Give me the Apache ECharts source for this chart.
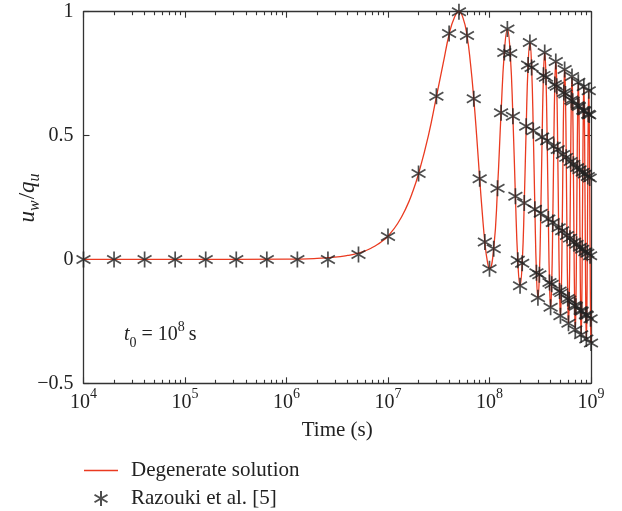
<!DOCTYPE html>
<html>
<head>
<meta charset="utf-8">
<script src="https://cdn.jsdelivr.net/npm/echarts@6/dist/echarts.min.js"></script>
<style>
  html, body { margin: 0; padding: 0; background: #fff; }
  #chart { width: 622px; height: 511px; }
</style>
</head>
<body>
<div id="chart"></div>
<script>
// Razouki et al. [5]: doubling time steps up to 5.12e6 s ...
const doublingTime = [1e4, 2e4, 4e4, 8e4, 1.6e5, 3.2e5, 6.4e5, 1.28e6, 2.56e6, 5.12e6];
const doublingValue = [0, 0, 0, 0, 0, 0, 0, 0, 0, 0.02];

// ... then a uniform step of 1e7 s up to 1e9 s
const cycleTime = [
  1e7, 2e7, 3e7, 4e7, 5e7, 6e7, 7e7, 8e7, 9e7, 1e8,
  1.1e8, 1.2e8, 1.3e8, 1.4e8, 1.5e8, 1.6e8, 1.7e8, 1.8e8, 1.9e8, 2e8,
  2.1e8, 2.2e8, 2.3e8, 2.4e8, 2.5e8, 2.6e8, 2.7e8, 2.8e8, 2.9e8, 3e8,
  3.1e8, 3.2e8, 3.3e8, 3.4e8, 3.5e8, 3.6e8, 3.7e8, 3.8e8, 3.9e8, 4e8,
  4.1e8, 4.2e8, 4.3e8, 4.4e8, 4.5e8, 4.6e8, 4.7e8, 4.8e8, 4.9e8, 5e8,
  5.1e8, 5.2e8, 5.3e8, 5.4e8, 5.5e8, 5.6e8, 5.7e8, 5.8e8, 5.9e8, 6e8,
  6.1e8, 6.2e8, 6.3e8, 6.4e8, 6.5e8, 6.6e8, 6.7e8, 6.8e8, 6.9e8, 7e8,
  7.1e8, 7.2e8, 7.3e8, 7.4e8, 7.5e8, 7.6e8, 7.7e8, 7.8e8, 7.9e8, 8e8,
  8.1e8, 8.2e8, 8.3e8, 8.4e8, 8.5e8, 8.6e8, 8.7e8, 8.8e8, 8.9e8, 9e8,
  9.1e8, 9.2e8, 9.3e8, 9.4e8, 9.5e8, 9.6e8, 9.7e8, 9.8e8, 9.9e8, 1e9
];
const cycleValue = [
  0.093, 0.347, 0.659, 0.912, 1.0, 0.904, 0.649, 0.326, 0.070, -0.038,
  0.043, 0.287, 0.592, 0.835, 0.930, 0.831, 0.578, 0.255, -0.003, -0.106,
  -0.015, 0.228, 0.538, 0.785, 0.876, 0.775, 0.519, 0.203, -0.054, -0.155,
  -0.062, 0.186, 0.494, 0.743, 0.835, 0.735, 0.479, 0.163, -0.093, -0.193,
  -0.100, 0.149, 0.457, 0.706, 0.799, 0.699, 0.444, 0.128, -0.127, -0.227,
  -0.134, 0.116, 0.424, 0.674, 0.767, 0.668, 0.412, 0.097, -0.158, -0.258,
  -0.164, 0.086, 0.395, 0.644, 0.738, 0.639, 0.384, 0.070, -0.185, -0.284,
  -0.189, 0.061, 0.371, 0.621, 0.715, 0.617, 0.362, 0.049, -0.206, -0.304,
  -0.209, 0.041, 0.352, 0.602, 0.697, 0.599, 0.345, 0.031, -0.223, -0.321,
  -0.226, 0.025, 0.335, 0.586, 0.681, 0.583, 0.329, 0.015, -0.239, -0.337
];

// Degenerate solution: onset and first loading cycle (to t = 1e8 s)
const riseTime = [
  1e4, 1e5, 1e6, 2e6, 3e6, 4e6, 5e6, 6e6, 7e6, 8e6, 9e6,
  1e7, 1.25e7, 1.5e7, 1.75e7, 2e7, 2.5e7, 3e7, 3.5e7, 4e7, 4.5e7,
  5e7, 5.5e7, 6e7, 6.5e7, 7e7, 7.5e7, 8e7, 8.5e7, 9e7, 9.5e7, 1e8
];
const riseValue = [
  0, 0, 0.001, 0.004, 0.009, 0.016, 0.024, 0.035, 0.048, 0.062, 0.077,
  0.094, 0.146, 0.206, 0.273, 0.346, 0.500, 0.657, 0.792, 0.908, 0.976,
  1.0, 0.973, 0.904, 0.790, 0.649, 0.490, 0.327, 0.185, 0.070, -0.005, -0.038
];

const decades = [1e4, 1e5, 1e6, 1e7, 1e8, 1e9];
const yTicks = [-0.5, 0, 0.5, 1];

const FONT = '"Liberation Serif", "DejaVu Serif", "Times New Roman", serif';
const RED = '#ea3a20';
const INK = '#222';
const AXIS = '#333';
const ASTERISK = 'path://M10,0L10,20M1.34,5L18.66,15M1.34,15L18.66,5';
const LINE_ICON = 'path://M0,0L34,0L34,1.3L0,1.3Z';

// minor ticks at 2..9 within each decade
const minorTicks = [];
for (let d = 0; d < decades.length - 1; d++) {
  for (let m = 2; m <= 9; m++) minorTicks.push(m * decades[d]);
}

const refData = doublingTime.map((t, i) => [t, doublingValue[i]])
  .concat(cycleTime.map((t, i) => [t, cycleValue[i]]));
const curveData = riseTime.map((t, i) => [t, riseValue[i]])
  .concat(cycleTime.map((t, i) => [t, cycleValue[i]]).filter(p => p[0] > 1e8));

// base text centred in a 30px line, exponent pinned to the line top
const supRich = {
  b: { fontFamily: FONT, fontSize: 20, color: INK, lineHeight: 30, verticalAlign: 'middle' },
  s: { fontFamily: FONT, fontSize: 14, color: INK, verticalAlign: 'top' }
};

function logAxis(position, isMinor, withLabels) {
  const ticks = isMinor ? minorTicks : decades;
  return {
    type: 'log', logBase: 10, min: 1e4, max: 1e9, position: position,
    axisLine: { show: !isMinor, onZero: false, lineStyle: { color: AXIS, width: 1.3 } },
    axisTick: { show: true, inside: true, length: isMinor ? 3.5 : 6, customValues: ticks,
      lineStyle: { color: AXIS, width: 1.1 } },
    axisLabel: withLabels ? {
      show: true, customValues: decades, margin: 4,
      formatter: v => '{b|10}{s|' + Math.round(Math.log10(v)) + '}',
      rich: supRich
    } : { show: false },
    splitLine: { show: false },
    minorTick: { show: false },
    name: withLabels ? 'Time (s)' : '',
    nameLocation: 'middle', nameGap: 37, nameMoveOverlap: false,
    nameTextStyle: { fontFamily: FONT, fontSize: 21, color: INK }
  };
}

const chart = echarts.init(document.getElementById('chart'), null, { renderer: 'canvas' });
chart.setOption({
  animation: false,
  backgroundColor: '#fff',
  grid: { left: 83.5, right: 31, top: 11.7, bottom: 127.7, containLabel: false, outerBoundsMode: 'none' },
  legend: {
    orient: 'vertical', left: 84, top: 460, padding: 0,
    itemWidth: 34, itemHeight: 15, itemGap: 7,
    selectedMode: false, symbolKeepAspect: true,
    textStyle: { fontFamily: FONT, fontSize: 21, color: INK, lineHeight: 21, padding: [0, 0, 0, 8] },
    data: [
      { name: 'Degenerate solution', icon: LINE_ICON, itemStyle: { color: RED, borderWidth: 0 } },
      { name: 'Razouki et al. [5]', icon: ASTERISK }
    ]
  },
  xAxis: [
    logAxis('bottom', false, true),
    logAxis('bottom', true, false),
    logAxis('top', false, false),
    logAxis('top', true, false)
  ],
  yAxis: [
    {
      type: 'value', min: -0.5, max: 1, interval: 0.5, position: 'left',
      axisLine: { show: true, onZero: false, lineStyle: { color: AXIS, width: 1.3 } },
      axisTick: { show: true, inside: true, length: 6, customValues: yTicks, lineStyle: { color: AXIS, width: 1.1 } },
      axisLabel: {
        show: true, margin: 10, customValues: yTicks,
        fontFamily: FONT, fontSize: 20, color: INK,
        formatter: v => (v < 0 ? '\u2212' + Math.abs(v) : String(v))
      },
      splitLine: { show: false },
      name: '{i|u}{sb|w}{n|/}{i|q}{sb|u}',
      nameLocation: 'middle', nameRotate: 90, nameGap: 41, nameMoveOverlap: false,
      nameTextStyle: {
        rich: {
          i: { fontFamily: FONT, fontSize: 23, fontStyle: 'italic', color: INK, lineHeight: 30, verticalAlign: 'middle' },
          n: { fontFamily: FONT, fontSize: 23, color: INK, lineHeight: 30, verticalAlign: 'middle' },
          sb: { fontFamily: FONT, fontSize: 16, fontStyle: 'italic', color: INK, verticalAlign: 'bottom', padding: [0, 1, 0, 0] }
        }
      }
    },
    {
      type: 'value', min: -0.5, max: 1, interval: 0.5, position: 'right',
      axisLine: { show: true, onZero: false, lineStyle: { color: AXIS, width: 1.3 } },
      axisTick: { show: true, inside: true, length: 6, customValues: yTicks, lineStyle: { color: AXIS, width: 1.1 } },
      axisLabel: { show: false },
      splitLine: { show: false }
    }
  ],
  series: [
    {
      name: 'Degenerate solution', type: 'line', data: curveData,
      xAxisIndex: 0, yAxisIndex: 0,
      symbol: 'none', smooth: true,
      lineStyle: { color: RED, width: 1.3 }, itemStyle: { color: RED },
      emphasis: { disabled: true }, z: 2
    },
    {
      name: 'Razouki et al. [5]', type: 'scatter', data: refData,
      xAxisIndex: 0, yAxisIndex: 0,
      symbol: ASTERISK, symbolSize: 16, symbolKeepAspect: true, clip: false,
      itemStyle: { color: 'rgba(0,0,0,0)', borderColor: INK, borderWidth: 1.7 },
      emphasis: { disabled: true }, z: 3
    }
  ],
  graphic: [
    {
      type: 'text', left: 124, top: 320,
      style: {
        text: '{i|t}{sb|0}{n| = 10}{sp|8}{n|\u2009s}',
        rich: {
          i: { fontFamily: FONT, fontSize: 20, fontStyle: 'italic', fill: INK, lineHeight: 30, verticalAlign: 'middle' },
          n: { fontFamily: FONT, fontSize: 20, fill: INK, lineHeight: 30, verticalAlign: 'middle' },
          sb: { fontFamily: FONT, fontSize: 14, fill: INK, verticalAlign: 'bottom' },
          sp: { fontFamily: FONT, fontSize: 14, fill: INK, verticalAlign: 'top' }
        }
      }
    }
  ]
});
</script>
</body>
</html>
